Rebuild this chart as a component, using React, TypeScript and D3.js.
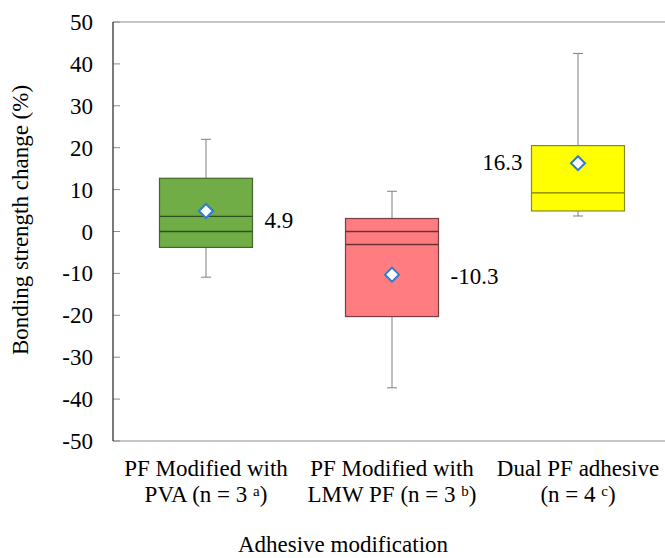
import React from 'react'
import * as d3 from 'd3'

const categories = ['pva', 'lmw', 'dual']
const labelLine1 = ['PF Modified with', 'PF Modified with', 'Dual PF adhesive']
const labelLine2 = ['PVA (n = 3 ', 'LMW PF (n = 3 ', '(n = 4 ']
const labelSup = ['a', 'b', 'c']

const whiskerMin = [-10.9, -37.3, 3.7]
const boxLow = [-3.8, -20.3, 4.9]
const median = [3.6, -3.1, 9.2]
const boxHigh = [12.7, 3.1, 20.5]
const whiskerMax = [22.0, 9.6, 42.5]
const means = [4.9, -10.3, 16.3]

const yTicks = [-50, -40, -30, -20, -10, 0, 10, 20, 30, 40, 50]

const fills = ['#70AD47', '#FF7C80', '#FFFF00']
const strokes = ['#41682a', '#7b3d3f', '#8a8a1e']
const innerStrokes = ['#2f4f1e', '#6a3436', '#7a7a10']

// label placement relative to the box (side, vertical nudge)
const labelSide = ['right', 'right', 'left']
const labelDy = [9, 1, -1]

const W = 665
const H = 558
const FONT = "'Liberation Serif', 'Times New Roman', serif"

export default function App() {
  const left = 113
  const top = 22
  const bottom = 441
  const right = 671

  const y = d3.scaleLinear().domain([-50, 50]).range([bottom, top])
  const x = d3.scaleBand<string>().domain(categories).range([left, right]).padding(0)
  const bw = x.bandwidth() * 0.5
  const capW = 10

  const txt = { fontFamily: FONT, fontSize: 23, fill: '#000' }

  return (
    <svg width={W} height={H}
      style={{ position: 'absolute', left: 0, top: 0, background: '#fff' }}>
      {/* frame */}
      <line x1={left} x2={W} y1={top} y2={top} stroke="#8c8c8c" strokeWidth={1.2} />
      <line x1={left} x2={W} y1={bottom} y2={bottom} stroke="#8c8c8c" strokeWidth={1.2} />

      {yTicks.map(t => (
        <g key={t}>
          <line x1={left} x2={left + 7} y1={y(t)} y2={y(t)} stroke="#8c8c8c" />
          <text x={93} y={y(t)} dy="0.35em" textAnchor="end" style={txt}>{t}</text>
        </g>
      ))}
      <line x1={left} x2={left} y1={top} y2={bottom} stroke="#222" strokeWidth={1.2} />

      {categories.map((c, i) => {
        const cx = x(c)! + x.bandwidth() / 2
        const x0 = cx - bw / 2
        const x1 = cx + bw / 2
        const showZero = boxLow[i] < 0 && boxHigh[i] > 0
        const my = y(means[i])
        const ds = 7
        return (
          <g key={c}>
            {/* whiskers */}
            <line x1={cx} x2={cx} y1={y(whiskerMax[i])} y2={y(boxHigh[i])} stroke="#7f7f7f" />
            <line x1={cx} x2={cx} y1={y(boxLow[i])} y2={y(whiskerMin[i])} stroke="#7f7f7f" />
            <line x1={cx - capW / 2} x2={cx + capW / 2} y1={y(whiskerMax[i])} y2={y(whiskerMax[i])} stroke="#7f7f7f" />
            <line x1={cx - capW / 2} x2={cx + capW / 2} y1={y(whiskerMin[i])} y2={y(whiskerMin[i])} stroke="#7f7f7f" />
            {/* box */}
            <rect x={x0} y={y(boxHigh[i])} width={bw} height={y(boxLow[i]) - y(boxHigh[i])}
              fill={fills[i]} stroke={strokes[i]} strokeWidth={1.2} />
            <line x1={x0} x2={x1} y1={y(median[i])} y2={y(median[i])} stroke={innerStrokes[i]} strokeWidth={1.3} />
            {showZero && (
              <line x1={x0} x2={x1} y1={y(0)} y2={y(0)} stroke={innerStrokes[i]} strokeWidth={1.3} />
            )}
            {/* mean marker */}
            <path d={`M${cx},${my - ds}L${cx + ds},${my}L${cx},${my + ds}L${cx - ds},${my}Z`}
              fill="#fff" stroke="#2e7bd1" strokeWidth={2} />
            {/* mean label */}
            <text
              x={labelSide[i] === 'right' ? x1 + 12 : x0 - 9}
              y={my + labelDy[i]}
              dy="0.35em"
              textAnchor={labelSide[i] === 'right' ? 'start' : 'end'}
              style={txt}
            >{means[i].toFixed(1)}</text>
            {/* category label */}
            <text x={cx} y={476} textAnchor="middle" style={txt}>{labelLine1[i]}</text>
            <text x={cx} y={502} textAnchor="middle" style={txt}>
              {labelLine2[i]}
              <tspan style={{ fontSize: 15 }} dy={-6}>{labelSup[i]}</tspan>
              <tspan dy={6}>)</tspan>
            </text>
          </g>
        )
      })}

      <text transform="translate(28,220) rotate(-90)" textAnchor="middle" style={txt}>
        Bonding strength change (%)
      </text>
      <text x={343} y={552} textAnchor="middle" style={txt}>Adhesive modification</text>
    </svg>
  )
}
